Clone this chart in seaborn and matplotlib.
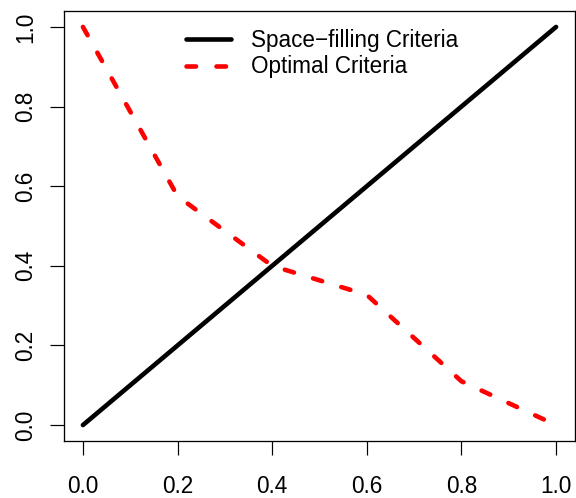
import matplotlib
matplotlib.use("Agg")
import matplotlib.pyplot as plt
import seaborn as sns
import numpy as np

# Data
x_vals = [0.0, 0.2, 0.4, 0.6, 0.8, 1.0]
space_filling = [0.0, 0.2, 0.4, 0.6, 0.8, 1.0]
optimal = [1.0, 0.575, 0.40, 0.327, 0.11, 0.0]
x_ticks = [0.0, 0.2, 0.4, 0.6, 0.8, 1.0]
y_ticks = [0.0, 0.2, 0.4, 0.6, 0.8, 1.0]
labels = ["Space\u2212filling Criteria", "Optimal Criteria"]

sns.set_style("white")
plt.rcParams['font.family'] = ['Liberation Sans', 'DejaVu Sans']
plt.rcParams['axes.unicode_minus'] = True
plt.rcParams['lines.scale_dashes'] = False
plt.rcParams['text.color'] = 'black'
plt.rcParams['xtick.color'] = 'black'
plt.rcParams['ytick.color'] = 'black'

LW = 4.6
FS = 22.5
ON = 9.5

fig = plt.figure(figsize=(8, 498 / 72), dpi=72)
ax = fig.add_axes([64 / 576, 1 - 441 / 498, (575 - 64) / 576, (441 - 11) / 498])

sns.lineplot(x=x_vals, y=space_filling, ax=ax, color="black", lw=LW,
             label=labels[0], solid_capstyle="round")
sns.lineplot(x=x_vals, y=optimal, ax=ax, color="#ff0000", lw=LW,
             label=labels[1])

ax.set_xlim(-0.04, 1.04)
ax.set_ylim(-0.04, 1.04)

# choose a dash period near 30 px so the dashed path ends inside a gap (as in R)
ln = ax.get_lines()[-1]
pts = ax.transData.transform(np.column_stack([x_vals, optimal]))
L = np.sum(np.hypot(*np.diff(pts, axis=0).T))
n = int(L // 30.0)
P = L / (n + 0.78)
DASH = (0, (ON, P - ON))
ln.set_linestyle(DASH)
ln.set_dash_capstyle("round")

ax.set_xticks(x_ticks)
ax.set_yticks(y_ticks)
ax.set_xticklabels([f"{v:.1f}" for v in x_ticks])
ax.set_yticklabels([f"{v:.1f}" for v in y_ticks], rotation=90, va="center")
ax.tick_params(axis="both", which="both", direction="out", length=14, width=1.2,
               color="black", labelsize=FS, labelcolor="black", bottom=True, left=True)
ax.tick_params(axis="x", pad=20)
ax.tick_params(axis="y", pad=13)
for s in ax.spines.values():
    s.set_visible(True)
    s.set_color("black")
    s.set_linewidth(1.3)

leg = ax.legend(loc="upper left", bbox_to_anchor=(186 / 576, 1 - 29 / 498),
                bbox_transform=fig.transFigure, frameon=False, fontsize=FS,
                handlelength=2.0, handletextpad=0.9, labelspacing=0.15,
                borderpad=0, borderaxespad=0)
for t in leg.get_texts():
    t.set_color("black")
for h in leg.get_lines():
    h.set_linewidth(LW)
    h.set_solid_capstyle("round")
leg.get_lines()[1].set_linestyle((0, (ON, 20.5)))
leg.get_lines()[1].set_dash_capstyle("round")

fig.savefig("out.png", dpi=72)
